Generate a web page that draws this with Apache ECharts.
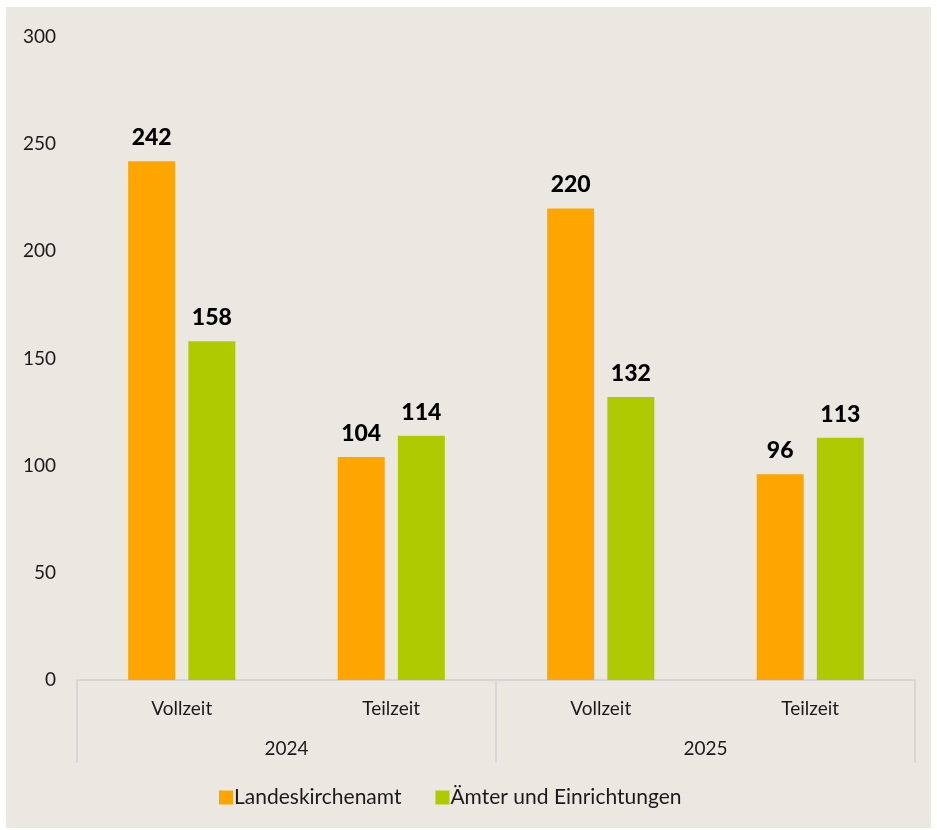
<!DOCTYPE html>
<html>
<head>
<meta charset="utf-8">
<script src="https://cdn.jsdelivr.net/npm/echarts@6/dist/echarts.min.js"></script>
<style>
  html, body { margin: 0; padding: 0; background: #ffffff; }
  #wrap { position: absolute; left: 6px; top: 7px; width: 925px; height: 821px; background: #ebe8e2; }
  #chart { width: 937px; height: 830px; position: absolute; left: -6px; top: -7px; }
</style>
</head>
<body>
<div id="wrap"><div id="chart"></div></div>
<script>
// Mitarbeitende nach Beschäftigungsumfang
const categories = ['Vollzeit', 'Teilzeit', 'Vollzeit', 'Teilzeit'];
const years = ['2024', '2025'];
const seriesNames = ['Landeskirchenamt', 'Ämter und Einrichtungen'];
const landeskirchenamt = [242, 104, 220, 96];
const aemter = [158, 114, 132, 113];
const yTicks = { min: 0, max: 300, interval: 50 };

const FONT = 'Lato';
const chart = echarts.init(document.getElementById('chart'), null, { renderer: 'canvas' });

const labelStyle = {
  show: true,
  position: 'top',
  distance: 12,
  fontFamily: FONT,
  fontWeight: 900,
  fontSize: 23,
  color: '#000000'
};

chart.setOption({
  backgroundColor: 'transparent',
  animation: false,
  grid: { left: 77, right: 22, top: 37, bottom: 150, containLabel: false },
  legend: {
    bottom: 17,
    left: 214,
    itemWidth: 14,
    itemHeight: 14,
    itemGap: 34,
    icon: 'rect',
    textStyle: { fontFamily: FONT, fontSize: 21, color: '#1a1a1a', padding: [0, 0, 0, -4] },
    data: seriesNames
  },
  xAxis: [
    {
      type: 'category',
      data: categories,
      position: 'bottom',
      axisLine: { show: true, lineStyle: { color: '#d6d6d6', width: 2 } },
      axisTick: { show: false },
      axisLabel: { fontFamily: FONT, fontSize: 19, color: '#1a1a1a', margin: 19 }
    },
    {
      type: 'category',
      data: years,
      position: 'bottom',
      axisLine: { show: false },
      axisTick: { show: true, length: 83, lineStyle: { color: '#d6d6d6', width: 2 } },
      axisLabel: { fontFamily: FONT, fontSize: 19, color: '#1a1a1a', margin: 59 }
    }
  ],
  yAxis: {
    type: 'value',
    min: yTicks.min,
    max: yTicks.max,
    interval: yTicks.interval,
    axisLine: { show: false },
    axisTick: { show: false },
    splitLine: { show: false },
    axisLabel: { fontFamily: FONT, fontSize: 19, color: '#1a1a1a', margin: 21 }
  },
  series: [
    {
      name: seriesNames[0],
      type: 'bar',
      xAxisIndex: 0,
      data: landeskirchenamt,
      barWidth: 47,
      barGap: '28%',
      itemStyle: { color: '#ffa500' },
      label: labelStyle
    },
    {
      name: seriesNames[1],
      type: 'bar',
      xAxisIndex: 0,
      data: aemter,
      barWidth: 47,
      barGap: '28%',
      itemStyle: { color: '#afcb00' },
      label: labelStyle
    }
  ]
});
</script>
</body>
</html>
